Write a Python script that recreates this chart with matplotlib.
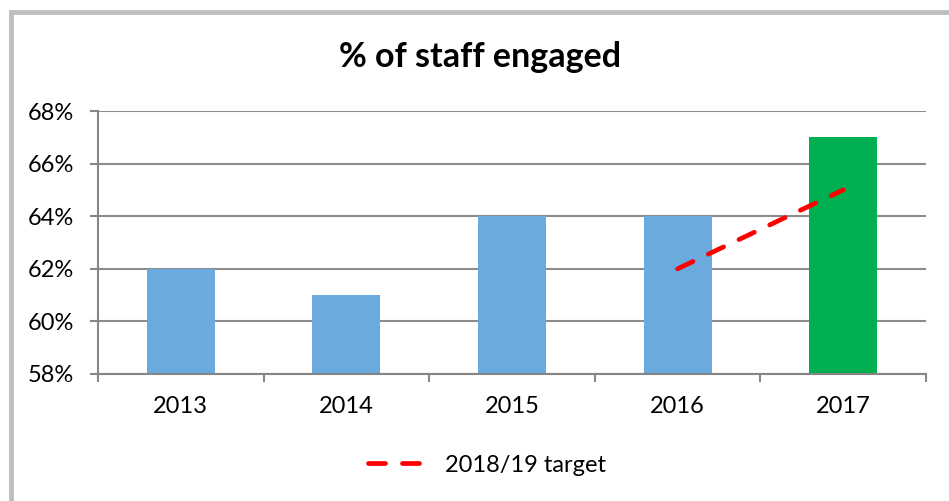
import matplotlib.pyplot as plt
import matplotlib.patches as patches
import numpy as np

plt.rcParams['font.family'] = ['Lato', 'DejaVu Sans']

# engagement by year
years = ["2013", "2014", "2015", "2016", "2017"]
engaged = [62, 61, 64, 64, 67]
bar_colors = ["#6aaadf", "#6aaadf", "#6aaadf", "#6aaadf", "#00b050"]

# target line runs from 2016 to 2017
target_years = ["2016", "2017"]
target = [62, 65]

fig = plt.figure(figsize=(9.49, 5.01), dpi=100)
ax = fig.add_axes([98 / 949, 1 - 374 / 501, (926 - 98) / 949, (374 - 111) / 501])

# outer chart border
fig.patches.append(patches.Rectangle((11 / 949, -0.1), 1.1, 1 - 12 / 501 + 0.1,
                                     transform=fig.transFigure, fill=False,
                                     edgecolor="#bfbfbf", linewidth=3.5))

ind = np.arange(len(years))
ax.bar(ind, engaged, width=0.41, color=bar_colors, zorder=2)
t_ind = [years.index(y) for y in target_years]
ax.plot(t_ind, target, color="red", linewidth=3.4, dashes=(3.6, 3.6),
        dash_capstyle="round", label="2018/19 target", zorder=3)

ax.set_xlim(-0.5, len(years) - 0.5)
ax.set_ylim(58, 68)
ax.set_yticks(np.arange(58, 69, 2))
ax.set_yticklabels([f"{v}%" for v in range(58, 69, 2)])
ax.set_xticks(ind)
ax.set_xticklabels(years)
ax.set_xticks(np.arange(-0.5, len(years), 1), minor=True)
ax.tick_params(axis="x", which="major", length=0, pad=16, labelsize=17)
ax.tick_params(axis="x", which="minor", length=6, color="#868686", width=1.5)
ax.tick_params(axis="y", length=6, color="#868686", width=1.5, labelsize=17, pad=11)
ax.grid(axis="y", color="#8c8c8c", linewidth=1.5, zorder=0)
for side in ["top", "right"]:
    ax.spines[side].set_visible(False)
for side in ["left", "bottom"]:
    ax.spines[side].set_color("#868686")
    ax.spines[side].set_linewidth(1.5)

fig.text(480 / 949, 1 - 57 / 501, "% of staff engaged", ha="center", va="center",
         fontsize=24.5, fontweight="bold")
fig.legend(loc="center", bbox_to_anchor=(487 / 949, 1 - 465 / 501), frameon=False,
           fontsize=17, handlelength=2.15, handletextpad=1.1)

fig.savefig("out.png", dpi=100)
